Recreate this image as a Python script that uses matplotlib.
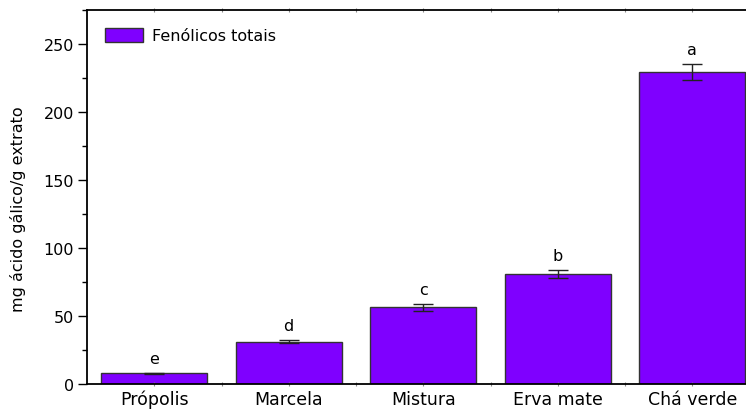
import numpy as np
import matplotlib.pyplot as plt
from matplotlib.ticker import MultipleLocator

plt.rcParams['font.family'] = ['DejaVu Sans']

# Data
amostras = ['Própolis', 'Marcela', 'Mistura', 'Erva mate', 'Chá verde']
fenolicos = [7.8, 31.0, 56.3, 80.7, 229.6]
erro = [0.5, 1.2, 2.6, 3.0, 6.0]
letras = ['e', 'd', 'c', 'b', 'a']

x = np.arange(1, len(amostras) + 1)

fig = plt.figure(figsize=(7.46, 4.10), dpi=100)
# axes extends a bit past the right edge, like the original
ax = fig.add_axes([87 / 746, 25 / 410, 672.5 / 746, 374 / 410])

ax.bar(x, fenolicos, width=0.79, color='#7F00FF', edgecolor='#333333',
       linewidth=1.0, label='Fenólicos totais')
ax.errorbar(x, fenolicos, yerr=erro, fmt='none', ecolor='#222222',
            elinewidth=1.0, capsize=7, capthick=1.0)

for xi, v, e, l in zip(x, fenolicos, erro, letras):
    ax.text(xi, v + e + 5, l, ha='center', va='bottom', fontsize=11.5)

ax.set_xlim(0.5, 5.5)
ax.set_ylim(0, 275)
ax.yaxis.set_major_locator(MultipleLocator(50))
ax.yaxis.set_minor_locator(MultipleLocator(25))
ax.tick_params(axis='y', which='major', direction='out', length=6.5, width=1.0,
               labelsize=11.5, pad=3)
ax.tick_params(axis='y', which='minor', direction='out', length=3.5, width=1.0)

ax.set_xticks(x)
ax.set_xticklabels(amostras)
ax.set_xticks(x[:-1] + 0.5, minor=True)
ax.tick_params(axis='x', which='both', direction='inout', length=2.5, width=0.8,
               color='#888888', top=True, labelsize=12.5, pad=3)

for s in ['left', 'bottom', 'top']:
    ax.spines[s].set_linewidth(1.3)
ax.spines['right'].set_visible(False)

ax.set_ylabel('mg ácido gálico/g extrato', fontsize=11.5)
ax.yaxis.set_label_coords(-0.09, 0.47)

ax.legend(loc='upper left', frameon=False, fontsize=11.5, handlelength=2.4,
          handleheight=1.0, borderaxespad=0.7, handletextpad=0.6)

fig.savefig('out.png', dpi=100)
